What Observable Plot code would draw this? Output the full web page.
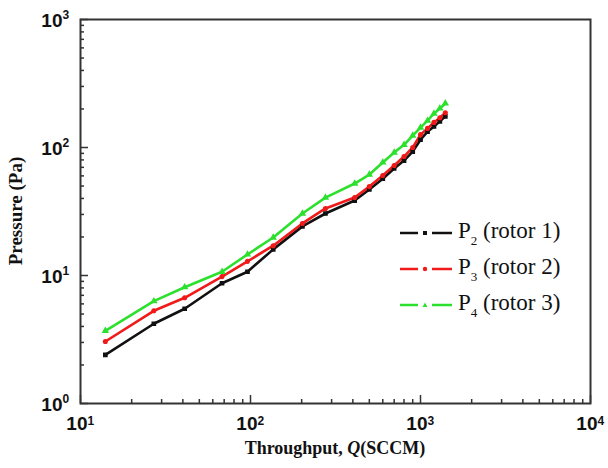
<!DOCTYPE html>
<html>
<head>
<meta charset="utf-8">
<script src="https://cdn.jsdelivr.net/npm/d3@7"></script>
<script src="https://cdn.jsdelivr.net/npm/@observablehq/plot@0.6"></script>
<style>
  html, body { margin: 0; padding: 0; background: #fff; }
  #wrap { position: relative; width: 608px; height: 468px; }
  #legend { position: absolute; left: 398px; top: 215px; font-family: "Liberation Serif", "DejaVu Serif", serif; font-size: 23px; color: #111; }
  .row { display: flex; align-items: center; height: 36px; }
  .row svg { margin-right: 4px; }
  .row sub { font-size: 13px; vertical-align: -7px; }
</style>
</head>
<body>
<div id="wrap"></div>
<script>
// ---- data ----
const throughput = [14, 27, 41, 68, 96, 136, 202, 276, 410, 500, 600, 700, 800, 900, 1000, 1100, 1200, 1300, 1400];
const p2Rotor1 = [2.4, 4.2, 5.5, 8.7, 10.7, 16, 24.2, 30.5, 38.5, 47, 57, 68.6, 79, 93, 115, 133, 146, 160, 175];
const p3Rotor2 = [3.05, 5.3, 6.7, 9.8, 12.9, 17.1, 25.5, 33.4, 40.7, 49.5, 60.4, 72.3, 85, 100, 126, 141, 157, 171, 187];
const p4Rotor3 = [3.7, 6.3, 8.1, 10.7, 14.6, 19.8, 30.5, 40.6, 52.3, 61.5, 76.4, 91.4, 105, 124, 143, 162, 184, 202, 221];
const seriesNames = ["P2 (rotor 1)", "P3 (rotor 2)", "P4 (rotor 3)"];
const seriesSub = ["2", "3", "4"];
const seriesColors = ["#111111", "#f01a1a", "#2ee02e"];
const seriesSymbols = ["square", "circle", "triangle"];
const xMajor = [10, 100, 1000, 10000];
const yMajor = [1, 10, 100, 1000];
const yTitle = "Pressure (Pa)";

// ---- build table ----
const allSeries = [p2Rotor1, p3Rotor2, p4Rotor3];
const data = [];
allSeries.forEach((vals, si) => vals.forEach((v, i) => data.push({Q: throughput[i], P: v, series: seriesNames[si]})));
const minorOf = (majors) => {
  const out = [];
  for (let k = 0; k < majors.length - 1; k++) for (let m = 2; m <= 9; m++) out.push(majors[k] * m);
  return out;
};
const xMinor = minorOf(xMajor);
const yMinor = minorOf(yMajor);

const W = 608, H = 468, ML = 80, MR = 18, MT = 19, MB = 65;
const innerW = W - ML - MR, innerH = H - MT - MB;
const axisColor = "#333";
const tickFont = "'Liberation Sans', Arial, sans-serif";
const serif = "'Liberation Serif', 'Times New Roman', serif";

const chart = Plot.plot({
  width: W, height: H,
  marginLeft: ML, marginRight: MR, marginTop: MT, marginBottom: MB,
  style: {background: "#fff", overflow: "visible"},
  x: {type: "log", domain: [10, 10000], axis: null},
  y: {type: "log", domain: [1, 1000], axis: null},
  color: {domain: seriesNames, range: seriesColors},
  symbol: {domain: seriesNames, range: seriesSymbols},
  marks: [
    // inward ticks
    Plot.tickX(xMinor, {x: d => d, insetTop: innerH - 4, stroke: axisColor, strokeWidth: 1.5}),
    Plot.tickX(xMajor, {x: d => d, insetTop: innerH - 8, stroke: axisColor, strokeWidth: 1.5}),
    Plot.tickY(yMinor, {y: d => d, insetRight: innerW - 4, stroke: axisColor, strokeWidth: 1.5}),
    Plot.tickY(yMajor, {y: d => d, insetRight: innerW - 8, stroke: axisColor, strokeWidth: 1.5}),
    // tick labels
    Plot.text(yMajor, {y: d => d, frameAnchor: "left", text: () => "10", textAnchor: "end", dx: -18, dy: 1, fontSize: 19, fontWeight: "bold", fontFamily: tickFont, fill: "#111"}),
    Plot.text(yMajor, {y: d => d, frameAnchor: "left", text: d => String(Math.round(Math.log10(d))), textAnchor: "start", dx: -18, dy: -4, fontSize: 12, fontWeight: "bold", fontFamily: tickFont, fill: "#111"}),
    Plot.text(xMajor, {x: d => d, frameAnchor: "bottom", text: () => "10", textAnchor: "end", dx: 7, dy: 26, fontSize: 19, fontWeight: "bold", fontFamily: tickFont, fill: "#111"}),
    Plot.text(xMajor, {x: d => d, frameAnchor: "bottom", text: d => String(Math.round(Math.log10(d))), textAnchor: "start", dx: 7, dy: 21, fontSize: 12, fontWeight: "bold", fontFamily: tickFont, fill: "#111"}),
    // data
    Plot.line(data, {x: "Q", y: "P", z: "series", stroke: "series", strokeWidth: 2.6}),
    Plot.dot(data, {x: "Q", y: "P", symbol: "series", fill: "series", stroke: "series", r: 1.8}),
    Plot.frame({stroke: axisColor, strokeWidth: 2})
  ]
});

const wrap = document.getElementById("wrap");
wrap.appendChild(chart);

// axis titles
const svg = d3.select(chart);
const xt = svg.append("text")
  .attr("x", ML + innerW / 2).attr("y", H - 14)
  .attr("text-anchor", "middle")
  .attr("font-family", serif).attr("font-weight", "bold").attr("font-size", 18).attr("fill", "#111");
xt.append("tspan").text("Throughput, ");
xt.append("tspan").attr("font-style", "italic").text("Q");
xt.append("tspan").text("(SCCM)");
svg.append("text")
  .attr("transform", `translate(22,${MT + innerH / 2}) rotate(-90)`)
  .attr("text-anchor", "middle")
  .attr("font-family", serif).attr("font-weight", "bold").attr("font-size", 19).attr("fill", "#111")
  .text(yTitle);

// legend overlay
const legend = document.createElement("div");
legend.id = "legend";
seriesNames.forEach((name, i) => {
  const row = document.createElement("div");
  row.className = "row";
  const c = seriesColors[i];
  const sym = seriesSymbols[i];
  let marker = "";
  if (sym === "square") marker = `<rect x="25" y="8" width="4" height="4" fill="${c}"/>`;
  else if (sym === "circle") marker = `<circle cx="27" cy="10" r="2.2" fill="${c}"/>`;
  else marker = `<path d="M27,7.5 L29.5,12 L24.5,12 Z" fill="${c}"/>`;
  row.innerHTML = `<svg width="56" height="20"><line x1="2" y1="10" x2="20" y2="10" stroke="${c}" stroke-width="2.5"/>${marker}<line x1="34" y1="10" x2="54" y2="10" stroke="${c}" stroke-width="2.5"/></svg><span>P<sub>${seriesSub[i]}</sub> (rotor ${i + 1})</span>`;
  legend.appendChild(row);
});
wrap.appendChild(legend);
</script>
</body>
</html>
